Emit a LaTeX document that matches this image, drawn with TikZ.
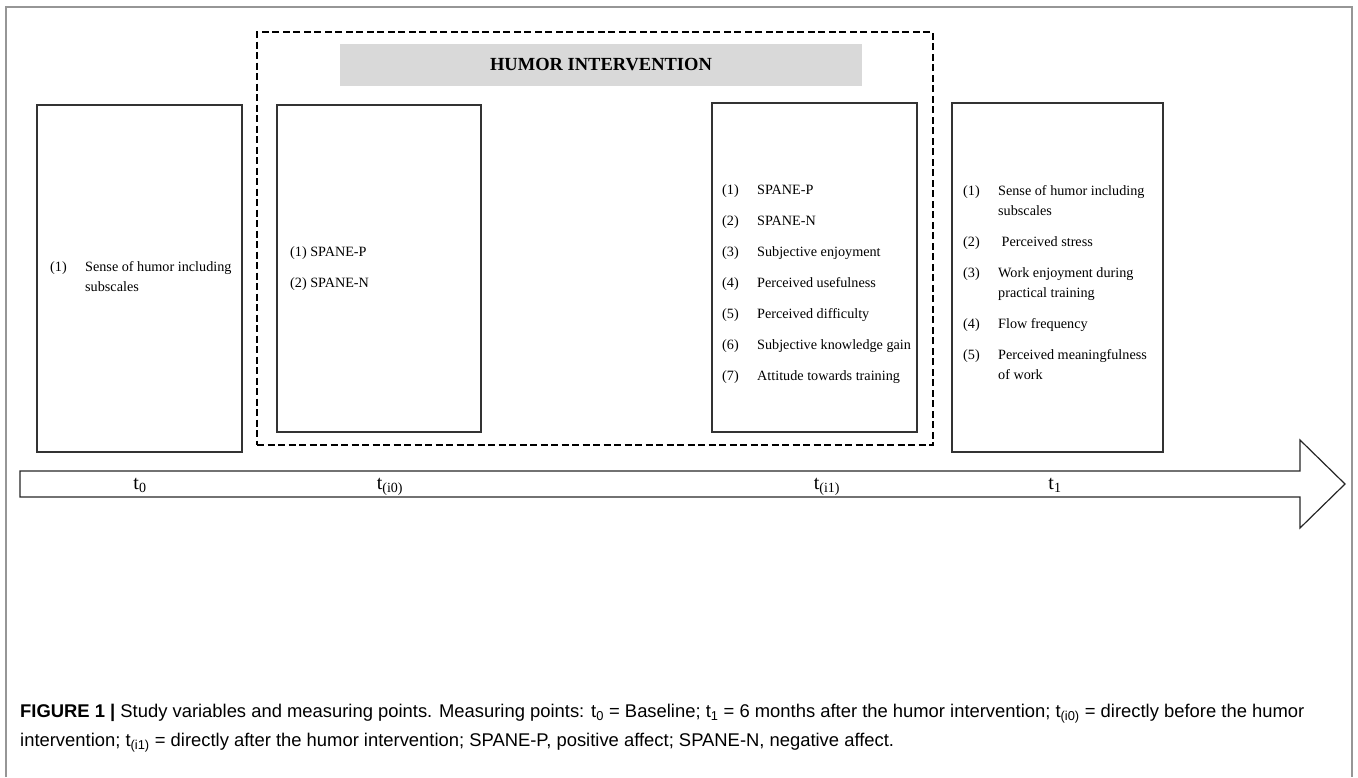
\documentclass[tikz,border=0pt]{standalone}
\usepackage{fontspec}
\setmainfont{Liberation Serif}
\newfontfamily\capfont{Liberation Sans}
\usetikzlibrary{positioning}
\definecolor{framegray}{RGB}{150,150,150}
\definecolor{bargray}{RGB}{217,217,217}
\newcommand{\numitem}[2]{\makebox[35pt][l]{#1}#2}
\newcommand{\contline}[1]{\hspace*{35pt}#1}

\begin{document}
\begin{tikzpicture}[x=1pt,y=-1pt,
    phase/.style={draw=black!80,line width=1.1pt},
    interv/.style={draw,line width=2.5pt,dash pattern=on 7pt off 3.5pt},
    titlebar/.style={fill=bargray,font=\fontsize{18.5}{20}\selectfont\bfseries},
    list/.style={align=left,inner sep=0pt,font=\fontsize{14.2}{20}\selectfont},
    tlabel/.style={font=\fontsize{20}{22}\selectfont},
    caption/.style={align=left,inner sep=0pt,font=\capfont\fontsize{18.4}{29}\selectfont}
  ]
  \useasboundingbox (0,0) rectangle (1358,777);
  % outer frame, open at the bottom
  \draw[framegray,line width=1.2pt] (6,777) -- (6,7) -- (1352,7) -- (1352,777);

  % intervention
  \node[interv,minimum width=676pt,minimum height=413pt] (interv) at (595,238.5) {};
  \node[titlebar,minimum width=522pt,minimum height=42pt] (title) at (601,65) {HUMOR INTERVENTION};

  % measuring points
  \node[phase,minimum width=205pt,minimum height=347pt] (m0) at (139.5,278.5) {};
  \node[phase,minimum width=204pt,minimum height=327pt] (mi0) at (379,268.5) {};
  \node[phase,minimum width=205pt,minimum height=329pt] (mi1) at (814.5,267.5) {};
  \node[phase,minimum width=211pt,minimum height=349pt] (m1) at (1057.5,277.5) {};

  \node[list,anchor=west] (l0) at (50,277) {%
    \numitem{(1)}{Sense of humor including}\\
    \contline{subscales}};
  \node[list,anchor=west] (li0) at (290,269) {%
    (1)\ SPANE-P\\[11pt]
    (2)\ SPANE-N};
  \node[list,anchor=west] (li1) at (722,284) {%
    \numitem{(1)}{SPANE-P}\\[11pt]
    \numitem{(2)}{SPANE-N}\\[11pt]
    \numitem{(3)}{Subjective enjoyment}\\[11pt]
    \numitem{(4)}{Perceived usefulness}\\[11pt]
    \numitem{(5)}{Perceived difficulty}\\[11pt]
    \numitem{(6)}{Subjective knowledge gain}\\[11pt]
    \numitem{(7)}{Attitude towards training}};
  \node[list,anchor=west] (l1) at (963,282.5) {%
    \numitem{(1)}{Sense of humor including}\\
    \contline{subscales}\\[11pt]
    \numitem{(2)}{\ Perceived stress}\\[11pt]
    \numitem{(3)}{Work enjoyment during}\\
    \contline{practical training}\\[11pt]
    \numitem{(4)}{Flow frequency}\\[11pt]
    \numitem{(5)}{Perceived meaningfulness}\\
    \contline{of work}};

  % time line
  \draw[black!85,line width=1.2pt,line join=miter]
    (20,471) -- (1300,471) -- (1300,440) -- (1345,484)
    -- (1300,528) -- (1300,497) -- (20,497) -- cycle;
  \node[tlabel] (t0) at (140,485) {t\textsubscript{0}};
  \node[tlabel] (ti0) at (390,487) {t\textsubscript{(i0)}};
  \node[tlabel] (ti1) at (827,487) {t\textsubscript{(i1)}};
  \node[tlabel] (t1) at (1055,485) {t\textsubscript{1}};

  % caption
  \node[caption,anchor=north west] (cap) at (20,704) {%
    \textbf{FIGURE 1 |} Study variables and measuring points. Measuring points: t\textsubscript{0} = Baseline; t\textsubscript{1} = 6 months after the humor intervention; t\textsubscript{(i0)} = directly before the humor\\
    intervention; t\textsubscript{(i1)} = directly after the humor intervention; SPANE-P, positive affect; SPANE-N, negative affect.};
\end{tikzpicture}
\end{document}
